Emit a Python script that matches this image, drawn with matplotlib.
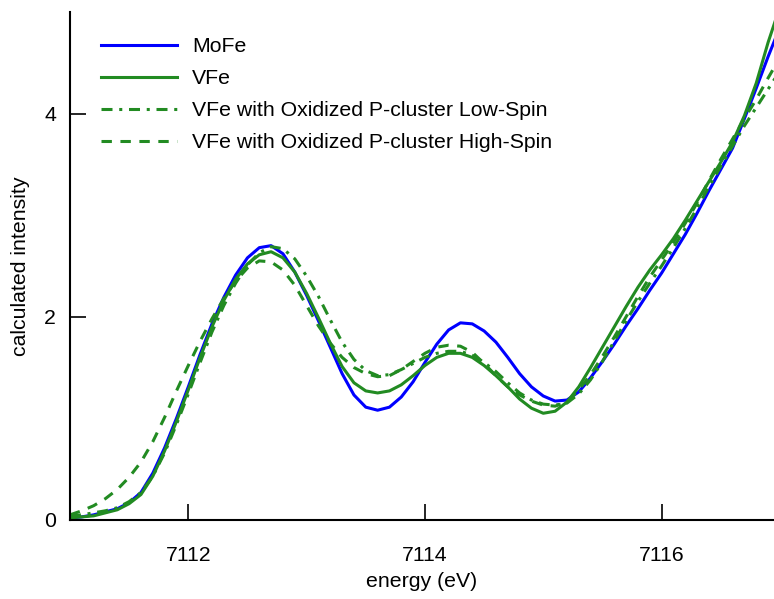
import numpy as np
import matplotlib.pyplot as plt

plt.rcParams['font.family'] = ['Liberation Sans', 'DejaVu Sans']

# energy grid (eV) and calculated intensities
energy = np.round(np.arange(7111.0, 7117.01, 0.1), 1)

mofe = [0.02, 0.03, 0.05, 0.08, 0.11, 0.17, 0.27, 0.46, 0.71, 1.00,
        1.31, 1.63, 1.93, 2.19, 2.41, 2.58, 2.68, 2.70, 2.62, 2.44,
        2.21, 1.96, 1.70, 1.44, 1.23, 1.11, 1.08, 1.11, 1.21, 1.36,
        1.55, 1.73, 1.87, 1.94, 1.93, 1.86, 1.75, 1.60, 1.44, 1.31,
        1.22, 1.17, 1.18, 1.26, 1.40, 1.56, 1.73, 1.91, 2.08, 2.26,
        2.43, 2.62, 2.81, 3.02, 3.24, 3.45, 3.66, 3.95, 4.25, 4.56,
        4.85]

vfe = [0.02, 0.03, 0.04, 0.07, 0.10, 0.16, 0.25, 0.43, 0.68, 0.97,
       1.28, 1.60, 1.90, 2.16, 2.37, 2.52, 2.61, 2.64, 2.58, 2.44,
       2.23, 1.99, 1.74, 1.51, 1.35, 1.27, 1.25, 1.27, 1.33, 1.42,
       1.52, 1.60, 1.64, 1.64, 1.60, 1.52, 1.42, 1.31, 1.19, 1.10,
       1.05, 1.07, 1.16, 1.31, 1.50, 1.70, 1.90, 2.10, 2.29, 2.46,
       2.61, 2.77, 2.95, 3.14, 3.33, 3.52, 3.72, 3.98, 4.30, 4.70,
       5.05]

vfe_ls = [0.04, 0.05, 0.07, 0.09, 0.12, 0.18, 0.27, 0.43, 0.66, 0.94,
          1.24, 1.55, 1.85, 2.11, 2.33, 2.51, 2.63, 2.69, 2.67, 2.57,
          2.40, 2.20, 1.97, 1.75, 1.58, 1.47, 1.42, 1.43, 1.48, 1.54,
          1.60, 1.64, 1.66, 1.66, 1.62, 1.55, 1.46, 1.35, 1.25, 1.18,
          1.14, 1.13, 1.15, 1.24, 1.38, 1.56, 1.76, 1.96, 2.15, 2.33,
          2.50, 2.68, 2.87, 3.07, 3.28, 3.48, 3.68, 3.88, 4.06, 4.24,
          4.42]

vfe_hs = [0.05, 0.09, 0.14, 0.21, 0.30, 0.42, 0.57, 0.77, 1.01, 1.27,
          1.52, 1.76, 1.98, 2.18, 2.35, 2.48, 2.55, 2.54, 2.46, 2.31,
          2.11, 1.91, 1.74, 1.60, 1.50, 1.44, 1.41, 1.42, 1.48, 1.56,
          1.64, 1.70, 1.72, 1.71, 1.65, 1.54, 1.42, 1.31, 1.23, 1.17,
          1.13, 1.12, 1.16, 1.28, 1.43, 1.61, 1.80, 2.00, 2.20, 2.39,
          2.56, 2.73, 2.92, 3.12, 3.34, 3.55, 3.75, 3.95, 4.14, 4.35,
          4.55]

labels = ['MoFe', 'VFe', 'VFe with Oxidized P-cluster Low-Spin',
          'VFe with Oxidized P-cluster High-Spin']

green = '#228b22'
lw = 2.2
fs = 15.3

fig = plt.figure(figsize=(7.74, 5.99), dpi=100)
ax = fig.add_axes([0.0904, 0.132, 0.9096, 0.848])

kw = dict(lw=lw, solid_joinstyle='round', dash_joinstyle='round')
ax.plot(energy, mofe, color='#0000ff', label=labels[0], **kw)
ax.plot(energy, vfe, color=green, label=labels[1], **kw)
ax.plot(energy, vfe_ls, color=green, dashes=(3.6, 2.2, 1.0, 2.2), label=labels[2], **kw)
ax.plot(energy, vfe_hs, color=green, dashes=(3.4, 2.8), label=labels[3], **kw)

ax.set_xlim(7111, 7116.95)
ax.set_ylim(0, 5)
ax.set_xticks([7112, 7114, 7116])
ax.set_yticks([0, 2, 4])
ax.tick_params(direction='in', length=11.5, width=1.2, labelsize=fs)
ax.tick_params(axis='x', pad=19)
ax.tick_params(axis='y', pad=10)
ax.ticklabel_format(useOffset=False)

for s in ['top', 'right']:
    ax.spines[s].set_visible(False)
for s in ['left', 'bottom']:
    ax.spines[s].set_linewidth(1.5)

ax.set_xlabel('energy (eV)', fontsize=fs, labelpad=5)
ax.set_ylabel('calculated intensity', fontsize=fs, labelpad=10)

ax.legend(loc='upper left', bbox_to_anchor=(0.044, 0.95), frameon=False,
          fontsize=fs, handlelength=3.58, handletextpad=0.7,
          labelspacing=0.61, borderpad=0, borderaxespad=0)

fig.savefig('out.png', dpi=100)
